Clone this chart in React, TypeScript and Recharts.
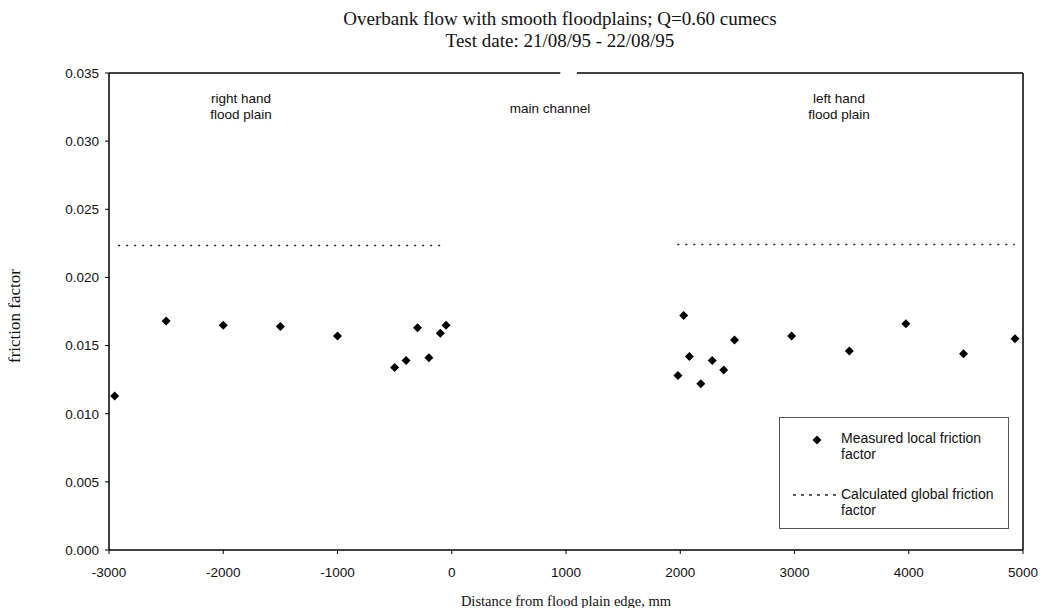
import { ComposedChart, Line, ReferenceLine, Scatter, XAxis, YAxis } from "recharts";

// measured local friction factor
const distance = [-2950, -2500, -2000, -1500, -1000, -500, -400, -300, -200, -100, -50, 1980, 2030, 2080, 2180, 2280, 2380, 2475, 2975, 3480, 3975, 4480, 4930];
const friction = [0.0113, 0.0168, 0.0165, 0.0164, 0.0157, 0.0134, 0.0139, 0.0163, 0.0141, 0.0159, 0.0165, 0.0128, 0.0172, 0.0142, 0.0122, 0.0139, 0.0132, 0.0154, 0.0157, 0.0146, 0.0166, 0.0144, 0.0155];

// calculated global friction factor (one segment per flood plain)
const rightPlainX = [-2920, -50];
const rightPlainF = [0.02234, 0.02234];
const leftPlainX = [1975, 4930];
const leftPlainF = [0.02242, 0.02242];

const xTicks = [-3000, -2000, -1000, 0, 1000, 2000, 3000, 4000, 5000];
const yTicks = [0, 0.005, 0.01, 0.015, 0.02, 0.025, 0.03, 0.035];

const measured = distance.map((x, i) => ({ x, f: friction[i] }));
const rightPlain = rightPlainX.map((x, i) => ({ x, f: rightPlainF[i] }));
const leftPlain = leftPlainX.map((x, i) => ({ x, f: leftPlainF[i] }));

const sans = "'Liberation Sans', Arial, sans-serif";
const serif = "'Liberation Serif', 'Times New Roman', serif";

function Diamond(props: any) {
  const { cx, cy } = props;
  const r = 4.5;
  return <polygon points={`${cx},${cy - r} ${cx + r},${cy} ${cx},${cy + r} ${cx - r},${cy}`} fill="#000" />;
}

const tickStyle = { fontSize: 13.5, fill: "#111", fontFamily: sans };

export default function App() {
  return (
    <div style={{ position: "absolute", left: 0, top: 0, width: 1041, height: 608, background: "#fff", fontFamily: sans }}>
      <div style={{ position: "absolute", left: 0, width: 1120, top: 8, textAlign: "center", fontFamily: serif, fontSize: 19, lineHeight: "22px", color: "#111" }}>
        Overbank flow with smooth floodplains; Q=0.60 cumecs
        <br />
        Test date: 21/08/95 - 22/08/95
      </div>
      <ComposedChart width={1041} height={608} margin={{ top: 73, right: 18, bottom: 0, left: 0 }}>
        <XAxis
          dataKey="x"
          type="number"
          domain={[-3000, 5000]}
          ticks={xTicks}
          height={58}
          tick={tickStyle}
          tickSize={4}
          tickMargin={13}
          axisLine={{ stroke: "#000", strokeWidth: 1.5 }}
          tickLine={{ stroke: "#000" }}
          allowDataOverflow
        />
        <YAxis
          dataKey="f"
          type="number"
          domain={[0, 0.035]}
          ticks={yTicks}
          width={109}
          tick={tickStyle}
          tickSize={4}
          tickMargin={6}
          tickFormatter={(v: number) => v.toFixed(3)}
          axisLine={{ stroke: "#000", strokeWidth: 1.5 }}
          tickLine={{ stroke: "#000" }}
          allowDataOverflow
        />
        <ReferenceLine segment={[{ x: -3000, y: 0.035 }, { x: 950, y: 0.035 }]} stroke="#000" strokeWidth={1.5} ifOverflow="visible" />
        <ReferenceLine segment={[{ x: 1095, y: 0.035 }, { x: 5000, y: 0.035 }]} stroke="#000" strokeWidth={1.5} ifOverflow="visible" />
        <ReferenceLine segment={[{ x: 5000, y: 0 }, { x: 5000, y: 0.035 }]} stroke="#000" strokeWidth={1.5} ifOverflow="visible" />
        <Line data={rightPlain} dataKey="f" stroke="#222" strokeWidth={1.5} strokeDasharray="2 6" dot={false} activeDot={false} isAnimationActive={false} />
        <Line data={leftPlain} dataKey="f" stroke="#222" strokeWidth={1.5} strokeDasharray="2 6" dot={false} activeDot={false} isAnimationActive={false} />
        <Scatter data={measured} dataKey="f" shape={<Diamond />} isAnimationActive={false} />
      </ComposedChart>

      <div style={{ position: "absolute", left: 0, top: 0, width: 1041, height: 608, pointerEvents: "none", fontSize: 13.5, color: "#111" }}>
        <div style={{ position: "absolute", left: 171, width: 140, top: 91, textAlign: "center", lineHeight: "16px" }}>
          right hand
          <br />
          flood plain
        </div>
        <div style={{ position: "absolute", left: 480, width: 140, top: 101, textAlign: "center", lineHeight: "16px" }}>main channel</div>
        <div style={{ position: "absolute", left: 769, width: 140, top: 91, textAlign: "center", lineHeight: "16px" }}>
          left hand
          <br />
          flood plain
        </div>

        <div
          style={{
            position: "absolute",
            left: 15,
            top: 316,
            transform: "translate(-50%, -50%) rotate(-90deg)",
            fontFamily: serif,
            fontSize: 17,
            whiteSpace: "nowrap",
          }}
        >
          friction factor
        </div>
        <div style={{ position: "absolute", left: 109, width: 914, top: 592, textAlign: "center", fontFamily: serif, fontSize: 14.5, lineHeight: "18px" }}>
          Distance from flood plain edge, mm
        </div>

        <div style={{ position: "absolute", left: 779, top: 417, width: 230, height: 112, border: "1px solid #555", boxSizing: "border-box", fontSize: 14, lineHeight: "16px" }}>
          <svg width={14} height={14} style={{ position: "absolute", left: 30, top: 15 }}>
            <polygon points="7,2.5 11.5,7 7,11.5 2.5,7" fill="#000" />
          </svg>
          <div style={{ position: "absolute", left: 61, top: 12 }}>
            Measured local friction
            <br />
            factor
          </div>
          <svg width={50} height={4} style={{ position: "absolute", left: 13, top: 75 }}>
            <line x1={0} y1={2} x2={48} y2={2} stroke="#222" strokeWidth={1.5} strokeDasharray="3 5" />
          </svg>
          <div style={{ position: "absolute", left: 61, top: 68 }}>
            Calculated global friction
            <br />
            factor
          </div>
        </div>
      </div>
    </div>
  );
}
